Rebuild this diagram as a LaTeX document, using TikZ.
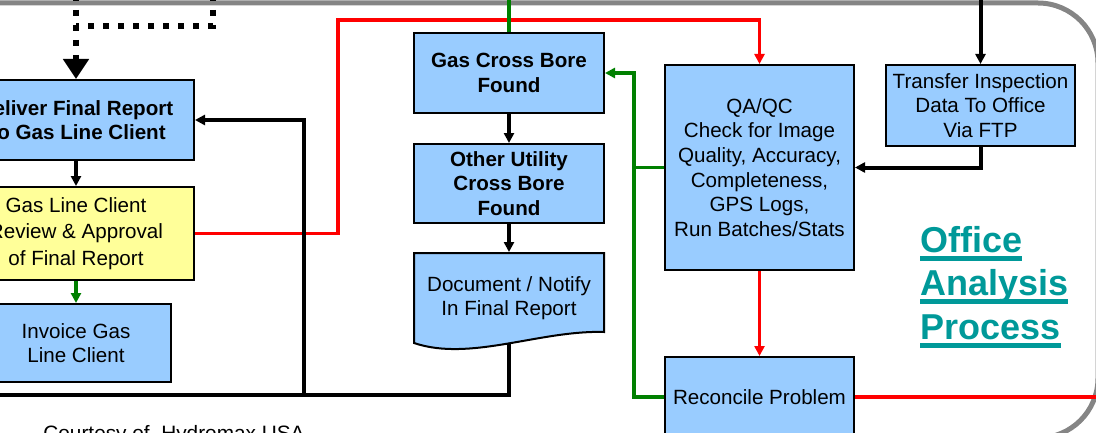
\documentclass[tikz,border=0pt]{standalone}
\usepackage{fontspec}
\setmainfont{Liberation Sans}
\usetikzlibrary{arrows.meta}
\definecolor{boxblue}{HTML}{99CCFF}
\definecolor{boxyellow}{HTML}{FFFF99}
\definecolor{titleteal}{HTML}{009999}
\definecolor{framegray}{HTML}{858585}
\tikzstyle{box base} = [draw=black,line width=1pt,align=center,inner sep=0pt,font=\fontsize{10.3pt}{12.3pt}\selectfont]
\tikzstyle{box blue} = [box base,fill=boxblue]
\tikzstyle{box yellow} = [box base,fill=boxyellow,font=\fontsize{10.3pt}{13.2pt}\selectfont]
\tikzstyle{box bold} = [box blue,font=\fontsize{10.3pt}{12.3pt}\selectfont\bfseries]
\tikzstyle{title text} = [anchor=base west,inner sep=0pt,text=titleteal,font=\fontsize{18pt}{21.75pt}\selectfont\bfseries]
\newcommand{\thickul}[1]{\setbox0\hbox{#1}\rlap{\rule[-4.5pt]{\wd0}{2.5pt}}\box0}
\newcommand{\docshape}[2][]{
 \begin{scope}[shift={(#2)},#1]
  \filldraw[box blue] (-95,-45) -- (95,-45) -- (95,34) .. controls (31,32) and (-39,64) .. (-95,45) -- cycle;
 \end{scope}
}

\begin{document}
\begin{tikzpicture}[x=0.5pt,y=-0.5pt,>={Triangle[length=5pt,width=5pt]}]
    \tikzstyle{wireblack} = [black,line width=2pt]
    \tikzstyle{wirered} = [red,line width=1.8pt]
    \tikzstyle{wiregreen} = [green!50!black,line width=1.6pt]
    \tikzstyle{wiredotted} = [black,line width=3pt,dash pattern=on 3pt off 4.5pt]
    \useasboundingbox (0,0) rectangle (1096,433);
    \clip (0,0) rectangle (1096,433);

    % frame of the office section
    \draw[framegray,line width=2.5pt,rounded corners=30pt] (-100,3) rectangle (1098,438);

    % left column
    \node[box bold,minimum width=118pt,minimum height=40pt] (deliver) at (76,120) {Deliver Final Report\\To Gas Line Client};
    \node[box yellow,minimum width=118pt,minimum height=46.5pt] (review) at (76,233.5) {Gas Line Client\\Review \& Approval\\of Final Report};
    \node[box blue,minimum width=95pt,minimum height=39pt] (invoice) at (76,343) {Invoice Gas\\Line Client};

    % middle column
    \node[box bold,minimum width=95pt,minimum height=40pt] (gasbore) at (509,73) {Gas Cross Bore\\Found};
    \node[box bold,minimum width=95pt,minimum height=39.5pt] (otherbore) at (509,183.5) {Other Utility\\Cross Bore\\Found};
    \docshape{509,298}
    \node[box base,draw=none,minimum width=95pt,minimum height=45pt] (notify) at (509,298) {Document / Notify\\In Final Report};

    % right column
    \node[box blue,minimum width=94.5pt,minimum height=102.5pt] (qaqc) at (759.5,167.5) {QA/QC\\Check for Image\\Quality, Accuracy,\\Completeness,\\GPS Logs,\\Run Batches/Stats};
    \node[box blue,minimum width=94.5pt,minimum height=40pt] (reconcile) at (759.5,397) {Reconcile Problem};
    \node[box blue,minimum width=94.5pt,minimum height=40.5pt] (transfer) at (980.5,105.5) {Transfer Inspection\\Data To Office\\Via FTP};

    % title
    \node[title text] (titleone) at (920,252) {\thickul{Office}};
    \node[title text] (titletwo) at (920,295) {\thickul{Analysis}};
    \node[title text] (titlethree) at (920,339) {\thickul{Process}};

    % credit line
    \node[anchor=base west,inner sep=0pt,font=\fontsize{10.4pt}{12pt}\selectfont] (credit) at (43,440) {Courtesy of~~Hydromax USA};

    % incoming from the field section
    \coordinate (fieldleft) at (76,-5);
    \coordinate (fieldright) at (213,-5);
    \coordinate (fieldcorner) at (213,26);
    \draw[wiredotted,-{Triangle[length=10pt,width=12.5pt]}] (fieldleft) -- (deliver.north);
    \draw[wiredotted] (fieldright) -- (fieldcorner) -- (fieldcorner -| deliver.north);

    % left column flow
    \coordinate (redcorner) at (338,20);
    \draw[wireblack,->] (deliver) -- (review);
    \draw[wiregreen,->] (review) -- (invoice);
    \draw[wirered,->] (review.east) -| (redcorner) -| (qaqc.north);

    % middle column flow
    \coordinate (greenin) at (509,-5);
    \coordinate (leftout) at (-10,395);
    \coordinate (backjoin) at (304,395);
    \draw[wiregreen] (greenin) -- (gasbore.north);
    \draw[wireblack,->] (gasbore) -- (otherbore);
    \draw[wireblack,->] (otherbore) -- (notify);
    \draw[wireblack] (notify.south) |- (leftout);
    \draw[wireblack,->] (backjoin) |- (deliver.east);

    % right column flow
    \coordinate (ftpin) at (980.5,-5);
    \coordinate (rightout) at (1110,397);
    \coordinate (greenbend) at (634,73);
    \draw[wireblack,->] (ftpin) -- (transfer.north);
    \draw[wireblack,->] (transfer.south) |- (qaqc.east);
    \draw[wirered,->] (qaqc) -- (reconcile);
    \draw[wirered] (reconcile.east) -- (rightout);
    \draw[wiregreen,->] (reconcile.west) -| (greenbend) -- (gasbore.east);
    \draw[wiregreen] (qaqc.west) -- (qaqc.west -| greenbend);
\end{tikzpicture}
\end{document}
